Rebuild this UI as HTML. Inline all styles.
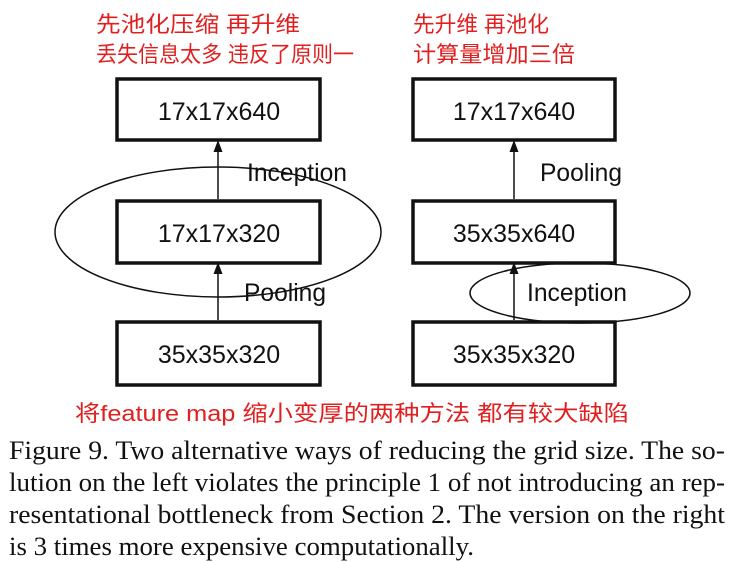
<!DOCTYPE html>
<html><head><meta charset="utf-8"><style>
body{margin:0;background:#fff;width:733px;height:562px;overflow:hidden}
svg{display:block}
.b{font-family:"Liberation Sans",sans-serif;font-size:25px;fill:#111}
.r{font-family:"Liberation Sans","Noto Sans CJK SC",sans-serif;fill:#e02020;font-size:22px}
.c{font-family:"Liberation Serif",serif;font-size:26px;fill:#111}
</style></head><body>
<svg width="733" height="562" viewBox="0 0 733 562">
<defs><marker id="a" markerWidth="8" markerHeight="8" refX="4" refY="4" orient="auto"><path d="M0,1 L8,4 L0,7 z" fill="#111"/></marker></defs>
<g fill="none" stroke="#111" stroke-width="3.5">
<rect x="117" y="79" width="203" height="61"/>
<rect x="117" y="201" width="203" height="62"/>
<rect x="117" y="322" width="203" height="63"/>
<rect x="413" y="79" width="202" height="61"/>
<rect x="413" y="201" width="202" height="62"/>
<rect x="413" y="322" width="202" height="63"/>
</g>
<g stroke="#111" stroke-width="1.5" fill="none">
<line x1="218" y1="199" x2="218" y2="146" marker-end="url(#a)"/>
<line x1="218" y1="320" x2="218" y2="268" marker-end="url(#a)"/>
<line x1="514" y1="199" x2="514" y2="146" marker-end="url(#a)"/>
<line x1="514" y1="320" x2="514" y2="268" marker-end="url(#a)"/>
<ellipse cx="218" cy="232" rx="163" ry="65"/>
<ellipse cx="580" cy="293" rx="110" ry="30"/>
</g>
<g class="b" text-anchor="middle">
<text x="219" y="120">17x17x640</text>
<text x="219" y="242">17x17x320</text>
<text x="219" y="363">35x35x320</text>
<text x="514" y="120">17x17x640</text>
<text x="514" y="242">35x35x640</text>
<text x="514" y="363">35x35x320</text>
</g>
<g class="b">
<text x="247" y="181" textLength="100" lengthAdjust="spacingAndGlyphs">Inception</text>
<text x="244" y="301" textLength="82" lengthAdjust="spacingAndGlyphs">Pooling</text>
<text x="540" y="181" textLength="82" lengthAdjust="spacingAndGlyphs">Pooling</text>
<text x="527" y="301" textLength="100" lengthAdjust="spacingAndGlyphs">Inception</text>
</g>
<g class="r">
<text x="96" y="32" textLength="204" lengthAdjust="spacingAndGlyphs">先池化压缩 再升维</text>
<text x="96" y="62" textLength="258" lengthAdjust="spacingAndGlyphs">丢失信息太多 违反了原则一</text>
<text x="413" y="32" textLength="136" lengthAdjust="spacingAndGlyphs">先升维 再池化</text>
<text x="413" y="62" textLength="162" lengthAdjust="spacingAndGlyphs">计算量增加三倍</text>
<text x="75" y="421" textLength="554" lengthAdjust="spacingAndGlyphs">将feature map 缩小变厚的两种方法 都有较大缺陷</text>
</g>
<g class="c">
<text x="9" y="459" textLength="716" lengthAdjust="spacingAndGlyphs">Figure 9. Two alternative ways of reducing the grid size. The so-</text>
<text x="9" y="491" textLength="716" lengthAdjust="spacingAndGlyphs">lution on the left violates the principle 1 of not introducing an rep-</text>
<text x="9" y="523" textLength="716" lengthAdjust="spacingAndGlyphs">resentational bottleneck from Section 2. The version on the right</text>
<text x="9" y="555" textLength="465" lengthAdjust="spacingAndGlyphs">is 3 times more expensive computationally.</text>
</g>
</svg>
</body></html>
